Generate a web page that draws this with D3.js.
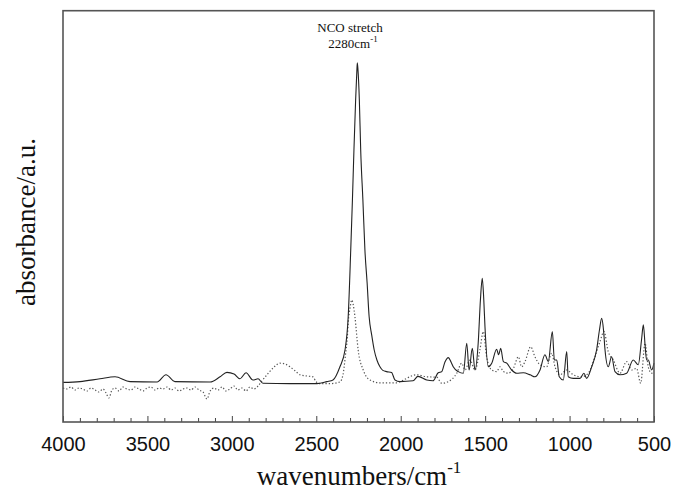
<!DOCTYPE html>
<html>
<head>
<meta charset="utf-8">
<script src="https://cdn.jsdelivr.net/npm/d3@7"></script>
<style>
  body { margin: 0; background: #fff; }
  svg { display: block; }
</style>
</head>
<body>
<div id="chart"></div>
<script>
// wavenumber (cm-1) / absorbance (a.u.)
const solidWn = [4000, 3899, 3781, 3692, 3603, 3443, 3390, 3337, 3129, 3070, 3029, 2987, 2952, 2916, 2875, 2845, 2816, 2656, 2496, 2437,
    2401, 2360, 2330, 2311, 2296, 2286, 2277, 2267, 2260, 2257, 2253, 2245, 2237, 2224, 2212, 2199, 2187, 2172, 2157, 2141, 2123, 2106, 2084, 2054, 2034, 2004,
    1927, 1898, 1846, 1809, 1778, 1757, 1738, 1718, 1702, 1689, 1659, 1629, 1609, 1595, 1576, 1560, 1541, 1528, 1517, 1508, 1501, 1481, 1461, 1432, 1420, 1408, 1392, 1372, 1343, 1313, 1274, 1234, 1205, 1175, 1146, 1126, 1102, 1090, 1076, 1061, 1037, 1017, 1008, 978, 938, 915, 899, 869, 840, 823, 810, 799, 790, 771, 751, 731, 701, 662, 623, 593, 574, 563, 553, 544, 534, 514, 500];
const solidAbs = [0.099, 0.101, 0.108, 0.113, 0.101, 0.100, 0.118, 0.101, 0.100, 0.113, 0.124, 0.120, 0.108, 0.123, 0.105, 0.108, 0.097, 0.096, 0.096, 0.101,
    0.105, 0.138, 0.180, 0.263, 0.430, 0.555, 0.680, 0.805, 0.875, 0.898, 0.880, 0.805, 0.680, 0.555, 0.430, 0.348, 0.263, 0.218, 0.180, 0.155, 0.138, 0.129, 0.126, 0.124, 0.105, 0.101,
    0.103, 0.114, 0.105, 0.103, 0.123, 0.126, 0.150, 0.161, 0.150, 0.138, 0.126, 0.122, 0.197, 0.130, 0.184, 0.130, 0.198, 0.305, 0.359, 0.305, 0.238, 0.138, 0.147, 0.182, 0.168, 0.184, 0.151, 0.147, 0.130, 0.122, 0.123, 0.118, 0.113, 0.130, 0.168, 0.151, 0.226, 0.155, 0.155, 0.113, 0.105, 0.176, 0.113, 0.109, 0.109, 0.122, 0.109, 0.138, 0.180, 0.230, 0.259, 0.230, 0.180, 0.138, 0.163, 0.126, 0.118, 0.122, 0.155, 0.143, 0.205, 0.243, 0.193, 0.155, 0.155, 0.130, 0.147];

const dottedWn = [4000, 3976, 3953, 3929, 3905, 3882, 3858, 3834, 3810, 3787, 3763, 3745, 3728, 3710, 3692, 3668, 3645, 3621, 3597, 3574, 3550, 3526, 3503, 3479, 3455, 3431, 3408, 3384, 3360, 3337, 3313, 3289, 3266, 3242, 3218, 3195, 3171, 3147, 3129, 3106, 3082, 3058, 3035, 3011, 2987, 2964, 2940, 2916, 2893, 2869, 2845, 2822, 2798, 2756, 2715, 2685, 2656, 2626, 2596, 2555, 2520, 2502, 2478, 2419,
    2360, 2342, 2327, 2316, 2311, 2300, 2290, 2281, 2271, 2252, 2222, 2182, 2123, 2024, 2004,
    1905, 1846, 1787, 1757, 1718, 1668, 1639, 1619, 1590, 1560, 1531, 1511, 1491, 1461, 1432, 1412, 1392, 1363, 1333, 1303, 1284, 1264, 1230, 1205, 1175, 1136, 1106, 1086, 1057, 1017, 978, 928, 889, 850, 820, 796, 771, 741, 701, 662, 632, 603, 579, 553, 534, 514, 500];
const dottedAbs = [0.085, 0.0825, 0.0875, 0.080, 0.085, 0.0825, 0.0775, 0.085, 0.080, 0.075, 0.0825, 0.0725, 0.060, 0.080, 0.085, 0.0775, 0.0875, 0.0825, 0.080, 0.0875, 0.0825, 0.0775, 0.085, 0.0875, 0.080, 0.085, 0.0825, 0.0875, 0.080, 0.085, 0.0775, 0.0825, 0.085, 0.080, 0.0875, 0.080, 0.075, 0.0575, 0.0775, 0.085, 0.080, 0.0875, 0.0775, 0.0825, 0.090, 0.080, 0.085, 0.0775, 0.0875, 0.0825, 0.090, 0.1025, 0.115, 0.135, 0.147, 0.145, 0.138, 0.128, 0.118, 0.115, 0.113, 0.101, 0.096, 0.096,
    0.100, 0.118, 0.168, 0.213, 0.248, 0.285, 0.305, 0.293, 0.263, 0.180, 0.130, 0.105, 0.098, 0.098, 0.101,
    0.118, 0.113, 0.112, 0.097, 0.101, 0.122, 0.147, 0.130, 0.155, 0.130, 0.180, 0.226, 0.163, 0.130, 0.126, 0.138, 0.126, 0.122, 0.134, 0.163, 0.138, 0.151, 0.188, 0.163, 0.143, 0.138, 0.172, 0.138, 0.118, 0.130, 0.118, 0.113, 0.122, 0.163, 0.201, 0.226, 0.176, 0.155, 0.122, 0.151, 0.130, 0.134, 0.097, 0.197, 0.138, 0.122, 0.125];

const majorTicks = [4000, 3500, 3000, 2500, 2000, 1500, 1000, 500];

const W = 674, H = 491;
const margin = { top: 10.7, right: 20, bottom: 69, left: 63 };
const width = W - margin.left - margin.right;
const height = H - margin.top - margin.bottom;

const svg = d3.select("#chart")
    .append("svg")
    .attr("width", W)
    .attr("height", H);

const g = svg.append("g")
    .attr("transform", `translate(${margin.left},${margin.top})`);

const x = d3.scaleLinear().domain([4000, 500]).range([0, width]);
const y = d3.scaleLinear().domain([0, height / 400]).range([height, 0]);

const line = d3.line()
    .x(d => x(d[0]))
    .y(d => y(d[1]))
    .curve(d3.curveMonotoneX);

const solid = solidWn.map((w, i) => [w, solidAbs[i]]);
const dotted = dottedWn.map((w, i) => [w, dottedAbs[i]]);

g.append("path")
    .datum(dotted)
    .attr("d", line)
    .attr("fill", "none")
    .attr("stroke", "#555")
    .attr("stroke-width", 1.2)
    .attr("stroke-dasharray", "1.3,2");

g.append("path")
    .datum(solid)
    .attr("d", line)
    .attr("fill", "none")
    .attr("stroke", "#222")
    .attr("stroke-width", 1.1);

// minor ticks every 100
const minor = d3.range(3900, 500, -100).filter(v => v % 500 !== 0);
g.append("g")
    .attr("transform", `translate(0,${height})`)
    .call(d3.axisBottom(x).tickValues(minor).tickSize(-4).tickFormat(""))
    .call(a => a.select(".domain").remove())
    .selectAll("line").attr("stroke", "#444");

g.append("g")
    .attr("transform", `translate(0,${height})`)
    .call(d3.axisBottom(x).tickValues(majorTicks).tickSize(-6).tickPadding(15).tickFormat(d3.format("d")))
    .call(a => a.select(".domain").remove())
    .call(a => a.selectAll("line").attr("stroke", "#444"))
    .selectAll("text")
    .attr("fill", "#111")
    .style("font-family", "'Liberation Sans', Arial, sans-serif")
    .style("font-size", "20px");

// frame
g.append("rect")
    .attr("width", width)
    .attr("height", height)
    .attr("fill", "none")
    .attr("stroke", "#555")
    .attr("stroke-width", 1.6);

const serif = "'Liberation Serif', 'Times New Roman', serif";

// annotation
svg.append("text")
    .attr("x", 350)
    .attr("y", 31.7)
    .attr("text-anchor", "middle")
    .attr("fill", "#111")
    .style("font-family", serif)
    .style("font-size", "13px")
    .text("NCO stretch");
const ann2 = svg.append("text")
    .attr("x", 353)
    .attr("y", 48.3)
    .attr("text-anchor", "middle")
    .attr("fill", "#111")
    .style("font-family", serif)
    .style("font-size", "13px");
ann2.append("tspan").text("2280cm");
ann2.append("tspan").attr("dy", -6).style("font-size", "9px").text("-1");

// axis labels
const xl = svg.append("text")
    .attr("x", 359)
    .attr("y", 485)
    .attr("text-anchor", "middle")
    .attr("fill", "#111")
    .style("font-family", serif)
    .style("font-size", "27px");
xl.append("tspan").text("wavenumbers/cm");
xl.append("tspan").attr("dy", -12).style("font-size", "17px").text("-1");

svg.append("text")
    .attr("transform", "translate(35,222) rotate(-90)")
    .attr("text-anchor", "middle")
    .attr("fill", "#111")
    .style("font-family", serif)
    .style("font-size", "27px")
    .text("absorbance/a.u.");
</script>
</body>
</html>
